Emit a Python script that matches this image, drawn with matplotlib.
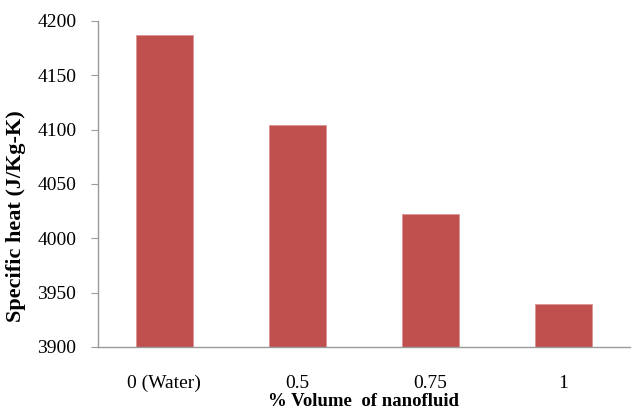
import matplotlib
matplotlib.use("Agg")
import matplotlib.pyplot as plt

categories = ["0 (Water)", "0.5", "0.75", "1"]
specific_heat = [4187, 4104, 4022, 3939]
y_ticks = [3900, 3950, 4000, 4050, 4100, 4150, 4200]

plt.rcParams['font.family'] = ['Liberation Serif', 'DejaVu Serif']

fig = plt.figure(figsize=(6.35, 4.09), dpi=100)
ax = fig.add_axes([0.154, 0.152, 0.838, 0.797])

x = range(len(categories))
ax.bar(x, specific_heat, width=0.43, color="#c0504d", edgecolor="#d99694", linewidth=0.6)

ax.set_ylim(3900, 4200)
ax.set_xlim(-0.5, len(categories) - 0.5)
ax.set_yticks(y_ticks)
ax.set_xticks(list(x))
ax.set_xticklabels(categories)

for side in ["top", "right"]:
    ax.spines[side].set_visible(False)
for side in ["left", "bottom"]:
    ax.spines[side].set_color("#9a9a9a")
    ax.spines[side].set_linewidth(1.0)

ax.tick_params(axis="y", length=5, color="#9a9a9a", labelsize=14, pad=10.5)
ax.tick_params(axis="x", length=0, labelsize=14, pad=20)

ax.set_ylabel("Specific heat (J/Kg-K)", fontsize=16, fontweight="bold")
ax.yaxis.set_label_coords(-0.134, 0.40)
ax.set_xlabel("% Volume  of nanofluid", fontsize=13.5, fontweight="bold", labelpad=1)

fig.savefig("out.png", dpi=100)
